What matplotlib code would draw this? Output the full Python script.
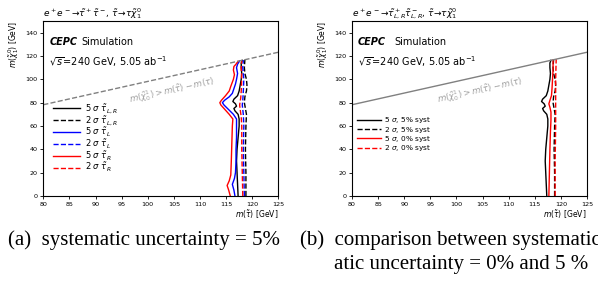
import numpy as np
import matplotlib
matplotlib.use("Agg")
import matplotlib.pyplot as plt

# stau mass scan, contours
x_range = [80, 125]
y_range = [0, 150]
m_tau = 1.777

# 5 sigma, tau_LR (5% syst)
y_b5 = [0, 10, 20, 30, 40, 50, 60, 66, 70, 73, 75, 77, 79, 81, 83, 86, 90, 95, 100, 105, 110, 114, 116.3]
x_b5 = [117.3, 117.2, 117.1, 117.0, 117.1, 117.3, 117.5, 117.5, 117.3, 116.7, 116.5, 117.0, 116.8, 116.3, 116.5, 117.2, 117.5, 117.7, 117.9, 118.0, 117.9, 117.9, 118.1]
# 2 sigma, tau_LR (5% syst)
y_b2 = [0, 20, 40, 60, 70, 75, 80, 85, 90, 95, 100, 105, 110, 116.8]
x_b2 = [118.8, 118.8, 118.7, 118.8, 118.9, 118.7, 118.5, 118.6, 118.9, 119.0, 118.9, 118.6, 118.5, 118.6]
# 5 sigma, tau_L
y_l5 = [0, 5, 10, 15, 20, 30, 40, 50, 60, 66, 70, 74, 78, 80, 82, 85, 88, 92, 96, 100, 105, 110, 113, 115.8]
x_l5 = [116.7, 116.5, 116.2, 116.6, 116.8, 116.9, 116.9, 117.0, 117.0, 117.0, 116.4, 115.5, 114.6, 114.3, 114.7, 115.6, 116.2, 116.5, 116.8, 117.0, 117.2, 117.0, 117.2, 117.6]
# 2 sigma, tau_L
y_l2 = [0, 20, 40, 60, 70, 78, 82, 90, 100, 110, 116.5]
x_l2 = [118.5, 118.4, 118.3, 118.4, 118.3, 118.1, 118.2, 118.3, 118.4, 118.2, 118.3]
# 5 sigma, tau_R
y_r5 = [0, 5, 9, 13, 18, 30, 45, 60, 66, 70, 74, 78, 80, 82, 86, 90, 94, 100, 104, 108, 111, 113, 115.5]
x_r5 = [115.8, 115.5, 115.2, 115.6, 115.9, 116.0, 116.1, 116.2, 116.3, 115.6, 114.8, 114.0, 113.8, 114.1, 114.9, 115.6, 115.9, 116.4, 116.6, 116.4, 116.5, 116.9, 117.3]
# 2 sigma, tau_R
y_r2 = [0, 20, 40, 60, 68, 74, 78, 84, 90, 100, 110, 116.2]
x_r2 = [118.2, 118.1, 118.0, 118.0, 117.9, 117.7, 117.6, 117.8, 117.9, 118.0, 117.9, 118.0]

# 0% syst, tau_LR
y_s5 = [0, 20, 40, 55, 65, 72, 76, 79, 82, 86, 92, 100, 108, 116.7]
x_s5 = [117.7, 117.8, 117.9, 118.0, 118.1, 118.1, 117.9, 117.7, 117.9, 118.2, 118.3, 118.4, 118.5, 118.5]
y_s2 = [0, 30, 60, 80, 100, 117.3]
x_s2 = [118.9, 118.9, 119.0, 119.0, 119.0, 119.1]

left_labels = [r'5 $\sigma$ $\tilde{\tau}_{L,R}$', r'2 $\sigma$ $\tilde{\tau}_{L,R}$',
               r'5 $\sigma$ $\tilde{\tau}_{L}$', r'2 $\sigma$ $\tilde{\tau}_{L}$',
               r'5 $\sigma$ $\tilde{\tau}_{R}$', r'2 $\sigma$ $\tilde{\tau}_{R}$']
right_labels = [r'5 $\sigma$, 5% syst', r'2 $\sigma$, 5% syst',
                r'5 $\sigma$, 0% syst', r'2 $\sigma$, 0% syst']


def decorate(ax, title, line_style, sim_x):
    kin = np.array(x_range, dtype=float)
    ax.plot(kin, kin - m_tau, color='gray', ls=line_style, lw=1.0)
    ax.text(104.6, 90.6, r'$m(\tilde{\chi}_0^1) > m(\tilde{\tau}) - m(\tau)$',
            color='#a0a0a0', fontsize=6.2, rotation=12.6, ha='center', va='center')
    ax.set_xlim(x_range)
    ax.set_ylim(y_range)
    ax.set_xticks(np.arange(80, 126, 5))
    ax.set_yticks(np.arange(0, 141, 20))
    ax.tick_params(labelsize=4.6, length=2.5, width=0.6, pad=1.5)
    for s in ax.spines.values():
        s.set_linewidth(0.8)
    ax.set_xlabel(r'$m(\tilde{\tau})$ [GeV]', fontsize=5.5, loc='right', labelpad=1)
    ax.set_ylabel(r'$m(\tilde{\chi}_1^0)$ [GeV]', fontsize=5.5, loc='top', labelpad=3)
    ax.set_title(title, fontsize=6.5, loc='left', pad=2)
    ax.text(0.025, 0.863, 'CEPC', transform=ax.transAxes, fontsize=7,
            fontweight='bold', fontstyle='italic')
    ax.text(sim_x, 0.863, 'Simulation', transform=ax.transAxes, fontsize=7)
    ax.text(0.025, 0.743, r'$\sqrt{s}$=240 GeV, 5.05 ab$^{-1}$', transform=ax.transAxes,
            fontsize=7)


fig = plt.figure(figsize=(5.98, 2.85), dpi=100)
ax1 = fig.add_axes([0.0724, 0.3123, 0.393, 0.614])
ax2 = fig.add_axes([0.5886, 0.3123, 0.393, 0.614])

lw = 1.0
ax1.plot(x_b5, y_b5, color='black', lw=lw, label=left_labels[0])
ax1.plot(x_b2, y_b2, color='black', lw=lw, ls='--', label=left_labels[1])
ax1.plot(x_l5, y_l5, color='blue', lw=lw, label=left_labels[2])
ax1.plot(x_l2, y_l2, color='blue', lw=lw, ls='--', label=left_labels[3])
ax1.plot(x_r5, y_r5, color='red', lw=lw, label=left_labels[4])
ax1.plot(x_r2, y_r2, color='red', lw=lw, ls='--', label=left_labels[5])
decorate(ax1, r'$e^+e^-\!\to\!\tilde{\tau}^+\tilde{\tau}^-$, $\tilde{\tau}\!\to\!\tau\tilde{\chi}_1^0$', '--', 0.16)
ax1.legend(loc='upper left', bbox_to_anchor=(0.017, 0.57), frameon=False, fontsize=6,
           handlelength=3.2, labelspacing=-0.15, handletextpad=0.6, borderaxespad=0.3)

ax2.plot(x_b5, y_b5, color='black', lw=lw, label=right_labels[0])
ax2.plot(x_b2, y_b2, color='black', lw=lw, ls='--', label=right_labels[1])
ax2.plot(x_s5, y_s5, color='red', lw=lw, label=right_labels[2])
ax2.plot(x_s2, y_s2, color='red', lw=lw, ls='--', label=right_labels[3])
decorate(ax2, r'$e^+e^-\!\to\!\tilde{\tau}_{L,R}^+\tilde{\tau}_{L,R}^-$, $\tilde{\tau}\!\to\!\tau\tilde{\chi}_1^0$', '-', 0.179)
ax2.legend(loc='upper left', bbox_to_anchor=(0.0, 0.49), frameon=False, fontsize=5.3,
           handlelength=3.2, labelspacing=-0.1, handletextpad=0.5, borderaxespad=0.3)

cap = dict(fontsize=15, family='Liberation Serif', va='center', ha='left')
fig.text(8 / 598, 1 - 240 / 285, '(a)  systematic uncertainty = 5%', **cap)
fig.text(300 / 598, 1 - 240 / 285, '(b)  comparison between systematic', **cap)
fig.text(334 / 598, 1 - 265 / 285, 'atic uncertainty = 0% and 5 %', **cap)

fig.savefig('out.png', dpi=100)
